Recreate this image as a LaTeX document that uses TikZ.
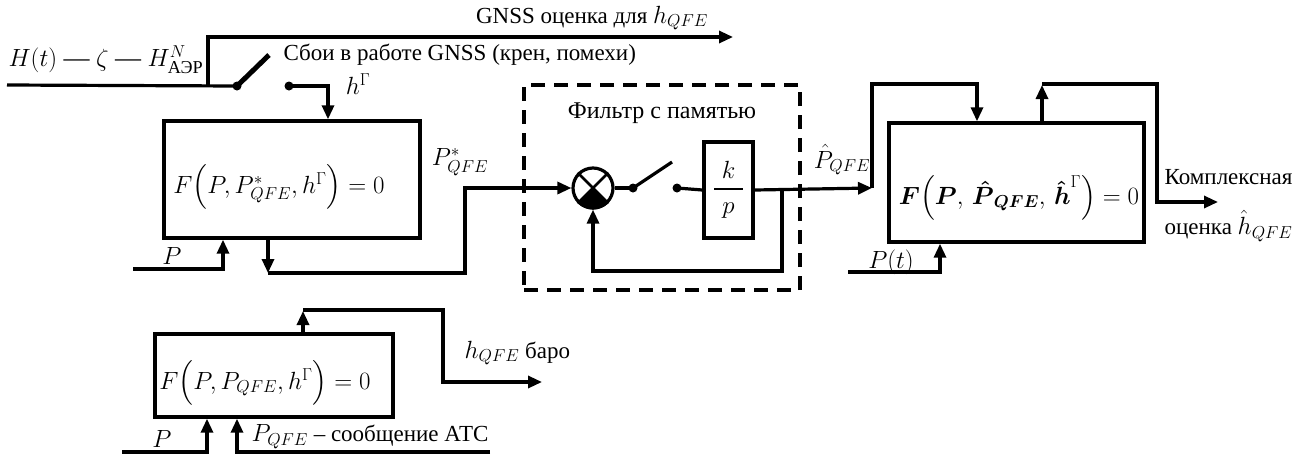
\documentclass[tikz,border=0pt]{standalone}
\usepackage{amsmath}
\usepackage{fontspec}
\setmainfont{Liberation Serif}
\usetikzlibrary{arrows.meta}
\begin{document}
\begin{tikzpicture}[x=1pt,y=-1pt, line width=3.2pt, line join=miter,
  arr/.style={-{Triangle[length=14pt,width=12pt]}},
  box/.style={draw,line width=3.4pt,inner sep=0pt},
  dashbox/.style={draw,line width=3.4pt,inner sep=0pt,dash pattern=on 14pt off 9pt},
  lbl/.style={inner sep=0pt,font=\fontsize{23}{26}\selectfont},
  fml/.style={inner sep=0pt,font=\fontsize{25}{28}\selectfont},
  dot/.style={circle,fill,inner sep=0pt,minimum size=9pt}]
\useasboundingbox (0,0) rectangle (1305,453);

% ---------- boxes ----------
\node[box,minimum width=256pt,minimum height=117pt] (b1) at (292,179.5) {};
\node[box,minimum width=255pt,minimum height=119pt] (b3) at (1016.5,182.5) {};
\node[box,minimum width=238pt,minimum height=83pt] (b4) at (274,375.5) {};
\node[box,minimum width=49pt,minimum height=96pt] (kp) at (728.5,190) {};
\node[dashbox,minimum width=276pt,minimum height=205pt] (filt) at (662,187.5) {};
\node[draw,circle,line width=3.2pt,inner sep=0pt,minimum size=40pt] (sum) at (593,188) {};
\draw[line width=2.6pt] (sum.45) -- (sum.225) (sum.135) -- (sum.315);
\fill (sum.center) -- (sum.225) -- (sum.240) -- (sum.255) -- (sum.270) -- (sum.285) -- (sum.300) -- (sum.315) -- cycle;

% ---------- formulas ----------
\node[fml] (f1) at (279,187) {$F\Bigl(P,P^{*}_{QFE},h^{\Gamma}\Bigr)=0$};
\node[fml] (f3) at (1019,198) {$\boldsymbol{F}\Bigl(\boldsymbol{P},\,\boldsymbol{\hat{P}}_{\boldsymbol{QFE}},\,\boldsymbol{\hat{h}}^{\Gamma}\Bigr)=0$};
\node[fml] (f4) at (265,383) {$F\Bigl(P,P_{QFE},h^{\Gamma}\Bigr)=0$};
\node[fml] (fk) at (728.5,170) {$k$};
\node[fml] (fp) at (728.5,211) {$p$};
\draw[line width=1.6pt] (714,189) -- (743,189);

% ---------- GNSS input and switch ----------
\coordinate (in0) at (7,85);
\coordinate (piv) at (237,86);
\coordinate (up0) at (208,85);
\coordinate (up1) at (208,37);
\coordinate (gout) at (733,37);
\coordinate (lev) at (269,55);
\coordinate (cnt) at (289,86);
\coordinate (cnt1) at (328,86);
\node[dot] (dpiv) at (piv) {};
\node[dot] (dcnt) at (cnt) {};
\draw (in0) -- (dpiv.center);
\draw[arr] (up0) -- (up1) -- (gout);
\draw[line width=5pt] (dpiv.center) -- (lev);
\draw[arr] (dcnt.center) -- (cnt1) -- (cnt1 |- b1.north);

% ---------- box1 I/O ----------
\coordinate (p1a) at (133,269);
\coordinate (p1b) at (223,269);
\draw[arr] (p1a) -- (p1b) -- (p1b |- b1.south);
\coordinate (o1a) at (268,238);
\coordinate (o1b) at (268,273);
\coordinate (o1c) at (465,273);
\coordinate (o1d) at (465,188);
\draw[arr] (o1a) -- (o1b);
\draw[arr] (o1b) -- (o1c) -- (o1d) -- (sum.west);

% ---------- filter ----------
\coordinate (sw1) at (633,188);
\coordinate (sw2) at (672,162);
\coordinate (sw3) at (677,188);
\node[dot] (dsw1) at (sw1) {};
\node[dot] (dsw3) at (sw3) {};
\draw (sum.east) -- (dsw1.center);
\draw[line width=3.2pt] (dsw1.center) -- (sw2);
\draw (dsw3.center) -- (kp.west);
\coordinate (fb0) at (782,188);
\coordinate (fb1) at (782,271);
\coordinate (fb2) at (593,271);
\draw[arr] (fb0) -- (fb1) -- (fb2) -- (sum.south);
\coordinate (po) at (872,188);
\draw[arr] (kp.east) -- (po);

% ---------- box3 I/O ----------
\coordinate (t1) at (872,84);
\coordinate (t2) at (977,84);
\draw[arr] (po) -- (t1) -- (t2) -- (t2 |- b3.north);
\coordinate (u1) at (1042,84);
\draw[arr] (u1 |- b3.north) -- ([yshift=-1pt]u1);
\coordinate (u2) at (1157,84);
\coordinate (u3) at (1157,202);
\coordinate (u4) at (1218,202);
\draw[arr] (u1) -- (u2) -- (u3) -- (u4);
\coordinate (pt1) at (848,272);
\coordinate (pt2) at (940,272);
\draw[arr] (pt1) -- (pt2) -- (pt2 |- b3.south);

% ---------- box4 I/O ----------
\coordinate (v1) at (303,310);
\draw[arr] (v1 |- b4.north) -- ([yshift=-1pt]v1);
\coordinate (v2) at (443,310);
\coordinate (v3) at (443,382);
\coordinate (v4) at (542,382);
\draw[arr] (v1) -- (v2) -- (v3) -- (v4);
\coordinate (q1) at (122,452);
\coordinate (q2) at (207,452);
\draw[arr] (q1) -- (q2) -- (q2 |- b4.south);
\coordinate (r1) at (490,452);
\coordinate (r2) at (237,452);
\draw[arr] (r1) -- (r2) -- (r2 |- b4.south);

% ---------- labels ----------
\node[lbl] (lgn) at (592,18) {GNSS оценка для $h_{QFE}$};
\node[lbl,anchor=west,font=\fontsize{26}{28}\selectfont] (lin) at (7,60) {$H(t)$ — $\zeta$ — $H^{N}_{\text{АЭР}}$};
\node[lbl,anchor=west] (lfail) at (282,55) {Сбои в работе GNSS (крен, помехи)};
\node[lbl] (lhg) at (358,84) {$h^{\Gamma}$};
\node[lbl] (lps) at (460,162) {$P^{*}_{QFE}$};
\node[lbl,font=\fontsize{24}{26}\selectfont] (lfilt) at (662,113) {Фильтр с памятью};
\node[lbl] (lph) at (842,160) {$\hat{P}_{QFE}$};
\node[lbl,anchor=west] (lk1) at (1163,177) {Комплексная};
\node[lbl,anchor=west] (lk2) at (1163,226) {оценка $\hat{h}_{QFE}$};
\node[lbl] (lpt) at (891,262) {$P(t)$};
\node[lbl] (lp1) at (172,256) {$P$};
\node[lbl] (lp4) at (162,439) {$P$};
\node[lbl,anchor=west] (lbaro) at (463,353) {$h_{QFE}$ баро};
\node[lbl,anchor=west] (latc) at (250,437) {$P_{QFE}$ – сообщение АТС};
\end{tikzpicture}
\end{document}
